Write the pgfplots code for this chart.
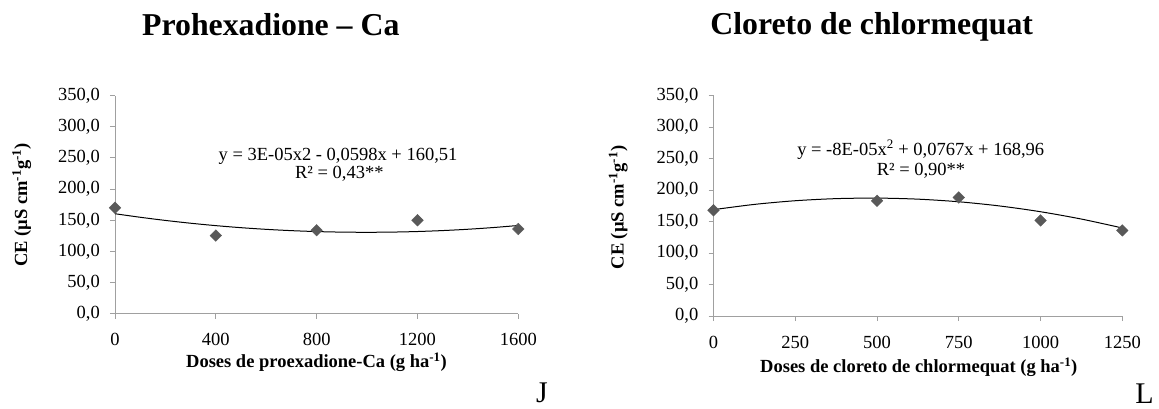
\documentclass[border=0pt]{standalone}
\usepackage{fontspec}
\setmainfont{Liberation Serif}
\usepackage{pgfplots}
\pgfplotsset{compat=1.18}
\definecolor{axgray}{HTML}{A0A0A0}
\definecolor{mk}{HTML}{595959}
\newcommand{\smfont}{\fontsize{18.5}{22}\selectfont}
\newcommand{\ttlfont}{\fontsize{31.8}{36}\selectfont\bfseries}
\newcommand{\letterfont}{\fontsize{30}{34}\selectfont}
\pgfplotsset{mystyle/.style={
  scale only axis, anchor=south west,
  axis lines*=left,
  axis line style={axgray, line width=1pt},
  tick style={axgray, line width=1pt},
  tick align=outside, major tick length=5pt,
  ymin=0, ymax=350, ytick={0,50,...,350},
  enlargelimits=false, clip=false,
  tick label style={font=\smfont},
  /pgf/number format/assume math mode=true,
  yticklabel={\pgfmathprintnumber[fixed,fixed zerofill,precision=1,use comma]{\tick}},
  yticklabel style={anchor=east, inner sep=0pt, xshift=-10pt},
  xticklabel style={/pgf/number format/1000 sep={}, anchor=base, inner sep=0pt, yshift=-27pt},
}}
\begin{document}
\begin{tikzpicture}[x=1pt,y=1pt]
\useasboundingbox (0pt,0pt) rectangle (1159pt,408pt);
% Left chart
\begin{axis}[mystyle, at={(115pt,94.3pt)}, width=403.3pt, height=218pt,
  xmin=0, xmax=1600, xtick={0,400,800,1200,1600}]
\addplot[black, line width=1pt, smooth] coordinates {
(0,160.51)(100,154.83)(200,149.75)(300,145.27)(400,141.39)(500,138.11)(600,135.43)(700,133.35)(800,131.87)(900,130.99)(1000,130.71)(1100,131.03)(1200,131.95)(1300,133.47)(1400,135.59)(1500,138.31)(1600,141.63)};
\addplot[only marks, mark=square*, mark size=4.1pt, mark options={rotate=45, fill=mk, draw=mk}]
coordinates {(0,170)(400,125.5)(800,134)(1200,150)(1600,136)};
\end{axis}
% Right chart
\begin{axis}[mystyle, at={(713.5pt,92pt)}, width=408.8pt, height=220.3pt,
  xmin=0, xmax=1250, xtick={0,250,500,750,1000,1250}]
\addplot[black, line width=1pt, smooth] coordinates {
(0,168.96)(125,177.30)(250,183.14)(375,186.47)(500,187.31)(625,185.65)(750,181.49)(875,174.82)(1000,165.66)(1125,154.00)(1250,139.84)};
\addplot[only marks, mark=square*, mark size=4.1pt, mark options={rotate=45, fill=mk, draw=mk}]
coordinates {(0,168)(500,183)(750,188.3)(1000,151.8)(1250,136)};
\end{axis}
% Titles
\node[anchor=base, inner sep=0pt] at (270.8pt,372pt) {\ttlfont Prohexadione – Ca};
\node[anchor=base, inner sep=0pt] at (871.7pt,373pt) {\ttlfont Cloreto de chlormequat};
% Axis labels
\node[rotate=90, inner sep=0pt] at (21.7pt,203pt) {\smfont\bfseries CE (µS cm\textsuperscript{-1}g\textsuperscript{-1})};
\node[rotate=90, inner sep=0pt] at (618.3pt,200.5pt) {\smfont\bfseries CE (µS cm\textsuperscript{-1}g\textsuperscript{-1})};
\node[anchor=base, inner sep=0pt] at (316.5pt,40.7pt) {\smfont\bfseries Doses de proexadione-Ca (g ha\textsuperscript{-1})};
\node[anchor=base, inner sep=0pt] at (918.8pt,35.3pt) {\smfont\bfseries Doses de cloreto de chlormequat (g ha\textsuperscript{-1})};
% Equations
\node[anchor=base, inner sep=0pt] at (338pt,248pt) {\smfont y = 3E-05x2 - 0,0598x + 160,51};
\node[anchor=base, inner sep=0pt] at (339.3pt,229.7pt) {\smfont R² = 0,43**};
\node[anchor=base, inner sep=0pt] at (920.7pt,253pt) {\smfont y = -8E-05x\textsuperscript{2} + 0,0767x + 168,96};
\node[anchor=base, inner sep=0pt] at (921pt,233pt) {\smfont R² = 0,90**};
% Panel letters
\node[anchor=base, inner sep=0pt] at (542pt,6pt) {\letterfont J};
\node[anchor=base, inner sep=0pt] at (1144.5pt,5pt) {\letterfont L};
\end{tikzpicture}
\end{document}
